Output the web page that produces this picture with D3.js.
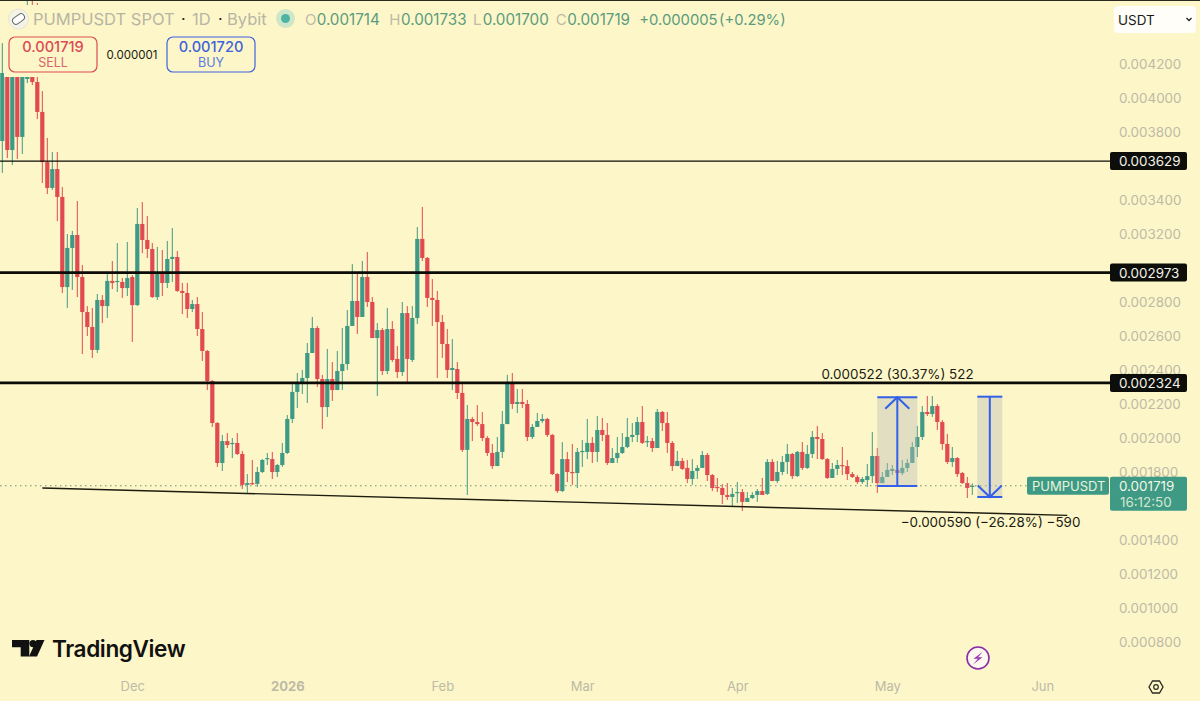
<!DOCTYPE html>
<html><head><meta charset="utf-8">
<script src="https://cdn.jsdelivr.net/npm/d3@7"></script>
<style>
html,body{margin:0;padding:0;background:#fdf6c8;overflow:hidden}
svg{display:block}
text{font-family:Inter,"Noto Sans",sans-serif}
</style></head><body>
<svg id="chart" width="1200" height="701"></svg>
<script>
// Prices in millionths of USDT, one candle per day starting 2025-11-05
const firstDay = "2025-11-05";
const opens = [
3747,4459,3694,4400,3771,4112,4341,4094,3918,3623,
3471,3582,3418,2888,3118,3194,2947,2741,2653,2518,
2812,2776,2924,2918,2918,2882,2947,2782,3259,3165,
3112,2829,2976,2912,3053,3065,2865,2853,2759,2788,
2641,2512,2335,2088,1853,1982,1965,1971,1906,1724,
1735,1730,1800,1876,1876,1800,1841,1912,2112,2271,
2324,2353,2500,2647,2347,2182,2347,2282,2394,2435,
2659,2806,2712,2947,2800,2588,2635,2394,2641,2465,
2388,2735,2459,2706,3171,3059,2824,2812,2682,2553,
2400,2406,2265,1930,2112,2094,2082,2000,1912,1835,
1918,2082,2329,2200,2212,2200,2006,2065,2100,2112,
2018,1788,1688,1876,1800,1794,1918,1918,1971,1918,
2047,2018,1853,1882,1912,1947,2006,2018,2094,1976,
1982,1941,2153,2088,1971,1835,1865,1824,1759,1806,
1824,1900,1782,1712,1706,1665,1653,1676,1682,1624,
1647,1665,1688,1671,1859,1747,1800,1859,1906,1776,
1918,1824,1906,2006,1994,1876,1765,1818,1841,1835,
1788,1771,1741,1753,1776,1894,1735,1771,1806,1812,
1794,1824,1853,1947,2006,2153,2141,2188,2094,1965,
1859,1882,1794,1735,1714];
const highs = [
4323,4518,4488,4471,4459,4588,4588,4559,4041,3765,
3682,3682,3476,3200,3218,3394,3018,2776,2765,2847,
2841,2976,3041,3147,2941,3153,2959,3353,3388,3306,
3147,3124,3106,3159,3235,3100,2912,2912,2812,2829,
2741,2518,2341,2094,2018,2029,2000,2029,1924,1788,
1871,1830,1876,1912,1918,1847,1971,2135,2329,2382,
2400,2559,2712,2659,2371,2524,2447,2512,2647,2753,
3023,2976,3041,3094,2829,2676,2647,2765,2688,2541,
2800,2776,2776,3241,3359,3065,2935,2865,2724,2641,
2582,2447,2318,2194,2124,2194,2153,2012,1965,2006,
2159,2371,2382,2288,2288,2224,2082,2147,2141,2118,
2024,1794,1976,1918,1965,1941,1988,2112,2006,2129,
2118,2088,1941,2006,2029,2118,2088,2124,2188,2012,
2000,2171,2159,2153,1982,1924,1882,1871,1876,1841,
1924,1912,1788,1765,1729,1735,1706,1741,1700,1682,
1682,1700,1765,1876,1876,1865,1894,1965,1912,1924,
1976,1959,2041,2071,2029,1882,1853,1871,1947,1871,
1800,1782,1771,1847,2035,1941,1800,1853,1841,1871,
1871,1876,1976,2071,2188,2247,2247,2200,2106,2024,
1947,1888,1800,1771,1733];
const lows = [
3559,3647,3606,3641,3671,4088,4076,3876,3500,3435,
3459,3276,2853,2765,2871,2829,2494,2600,2471,2500,
2676,2706,2876,2859,2824,2835,2565,2776,3088,3059,
2824,2812,2835,2882,2918,2859,2729,2706,2741,2600,
2453,2282,2065,1830,1806,1941,1882,1900,1700,1677,
1724,1712,1794,1841,1759,1771,1830,1906,2088,2176,
2259,2206,2500,2300,2053,2124,2218,2282,2282,2400,
2659,2612,2712,2771,2588,2247,2371,2376,2447,2353,
2365,2324,2447,2671,3041,2771,2659,2353,2471,2353,
2282,2229,1918,1665,1982,2071,1982,1894,1818,1835,
1882,2082,2171,2147,2176,1982,1994,2065,2088,2006,
1782,1677,1682,1741,1724,1706,1830,1876,1853,1859,
1982,1841,1853,1853,1906,1941,1976,1976,1965,1947,
1918,1941,2041,1912,1806,1835,1812,1735,1724,1759,
1824,1747,1688,1682,1612,1635,1600,1618,1571,1624,
1641,1624,1665,1665,1747,1735,1782,1788,1759,1771,
1812,1818,1882,1876,1871,1759,1765,1782,1782,1753,
1765,1730,1730,1712,1735,1677,1735,1771,1782,1782,
1782,1800,1853,1888,1988,2129,2124,2047,1930,1847,
1830,1771,1730,1647,1665];
const closes = [
4147,3694,4429,3771,4371,4341,4094,3918,3623,3471,
3582,3418,2888,3118,3194,2947,2741,2653,2518,2812,
2776,2924,2912,2924,2882,2941,2782,3259,3165,3112,
2829,2976,2912,3053,3065,2865,2853,2759,2788,2641,
2512,2335,2088,1853,1982,1959,1971,1906,1724,1735,
1730,1800,1871,1882,1800,1841,1912,2112,2271,2324,
2353,2500,2647,2347,2182,2347,2282,2394,2435,2659,
2806,2712,2947,2800,2588,2635,2394,2641,2459,2388,
2735,2465,2706,3171,3059,2824,2812,2682,2553,2400,
2412,2265,1930,2112,2094,2082,2000,1912,1835,1918,
2082,2329,2200,2212,2200,2006,2065,2100,2112,2018,
1788,1688,1876,1800,1794,1918,1924,1971,1918,2047,
2018,1853,1882,1912,1947,2006,2018,2094,1971,1982,
1941,2153,2088,1971,1835,1865,1818,1759,1806,1824,
1900,1782,1706,1706,1665,1653,1671,1682,1624,1647,
1665,1688,1665,1859,1747,1800,1859,1906,1776,1918,
1824,1906,2006,1994,1876,1765,1818,1841,1835,1788,
1771,1741,1759,1776,1894,1735,1771,1812,1818,1794,
1824,1853,1947,2006,2153,2141,2188,2094,1965,1859,
1882,1788,1735,1706,1719];

const monthStarts = ["2025-12-01","2026-01-01","2026-02-01","2026-03-01","2026-04-01","2026-05-01","2026-06-01"];
const monthLabels = ["Dec","2026","Feb","Mar","Apr","May","Jun"];
const priceTicks = [4200,4000,3800,3400,3200,2800,2600,2400,2200,2000,1800,1400,1200,1000,800];
const levels = [3629,2973,2324];
const levelWidths = [1.3,2.6,2.6];
const lastPrice = 1719;
const trendDays = ["2025-11-13","2026-06-06"];
const trendPrices = [1706,1545];
const longDays = ["2026-04-29","2026-05-07"];   const longPrices = [1718,2240];
const shortDays = ["2026-05-19","2026-05-24"];  const shortPrices = [2243,1653];

const BG="#fdf6c8", UP="#3f9a85", DOWN="#e04a50", BLUE="#3360e8", AXIS="#bdbaa6";
const svg=d3.select("#chart");
const parse=d3.utcParse("%Y-%m-%d");
const x=d3.scaleUtc().domain([parse("2025-12-01"),parse("2026-06-01")]).range([132.3,1042.3]);
const y=d3.scaleLinear().domain([800,4200]).range([642,64]);
const first=parse(firstDay);
const candles=opens.map((o,i)=>({day:d3.utcDay.offset(first,i),o,h:highs[i],l:lows[i],c:closes[i]}));
const fmt=v=>(v/1e6).toFixed(6);

svg.append("rect").attr("width",1200).attr("height",701).attr("fill",BG);

// candles
const g=svg.append("g");
g.selectAll("line.w").data(candles).join("line")
  .attr("x1",d=>x(d.day)).attr("x2",d=>x(d.day))
  .attr("y1",d=>y(d.h)).attr("y2",d=>y(d.l))
  .attr("stroke",d=>d.c>=d.o?UP:DOWN).attr("stroke-width",1);
g.selectAll("rect.b").data(candles).join("rect")
  .attr("x",d=>x(d.day)-2.1).attr("width",4.2)
  .attr("y",d=>y(Math.max(d.o,d.c)))
  .attr("height",d=>Math.max(1.2,Math.abs(y(d.o)-y(d.c))))
  .attr("fill",d=>d.c>=d.o?UP:DOWN);

// legend mask above the first candles
svg.append("rect").attr("x",4).attr("y",5).attr("width",100).attr("height",72).attr("fill",BG);
svg.append("rect").attr("width",1200).attr("height",1).attr("fill","#2a2a20");

// last-price dotted line
svg.append("line").attr("x1",0).attr("x2",1027).attr("y1",y(lastPrice)).attr("y2",y(lastPrice))
  .attr("stroke","#6f8f72").attr("stroke-width",1).attr("stroke-dasharray","1.5 3.5");

// horizontal levels
svg.selectAll("line.level").data(levels).join("line")
  .attr("x1",0).attr("x2",1111).attr("y1",d=>y(d)).attr("y2",d=>y(d))
  .attr("stroke","#0b0b08").attr("stroke-width",(d,i)=>levelWidths[i]);

// trend line
svg.append("line")
  .attr("x1",x(parse(trendDays[0]))).attr("y1",y(trendPrices[0]))
  .attr("x2",x(parse(trendDays[1]))).attr("y2",y(trendPrices[1]))
  .attr("stroke","#1c1c10").attr("stroke-width",1.4);

// measure tools
function measure(days,prices){
  const x0=x(parse(days[0])),x1=x(parse(days[1])),ya=y(prices[0]),yb=y(prices[1]),xm=(x0+x1)/2;
  const dir=yb<ya?1:-1;
  svg.append("rect").attr("x",x0).attr("width",x1-x0).attr("y",Math.min(ya,yb)).attr("height",Math.abs(ya-yb))
    .attr("fill","#b9bdbb").attr("fill-opacity",.42);
  const m=svg.append("g").attr("stroke",BLUE).attr("stroke-width",2).attr("fill","none");
  m.append("line").attr("x1",x0).attr("x2",x1).attr("y1",ya).attr("y2",ya);
  m.append("line").attr("x1",x0).attr("x2",x1).attr("y1",yb).attr("y2",yb);
  m.append("line").attr("x1",xm).attr("x2",xm).attr("y1",ya).attr("y2",yb);
  m.append("path").attr("d",d3.line()([[xm-12,yb+dir*11.5],[xm,yb],[xm+12,yb+dir*11.5]]));
}
measure(longDays,longPrices);
measure(shortDays,shortPrices);
const label=(t,xp,yp)=>svg.append("text").text(t).attr("x",xp).attr("y",yp).attr("text-anchor","middle")
  .attr("font-size",13.4).attr("fill","#1a1a10");
label("0.000522 (30.37%) 522",897.5,379);
label("\u22120.000590 (\u221226.28%) \u2212590",990.5,527);

// price axis
const ay=svg.append("g").attr("transform","translate(1119,0)")
  .call(d3.axisRight(y).tickValues(priceTicks).tickSize(0).tickPadding(0).tickFormat(fmt));
ay.select(".domain").remove();
ay.selectAll("text").attr("fill",AXIS).attr("font-size",13.4).attr("font-family",'Inter,sans-serif').attr("dy","0.36em");

// time axis
const ax=svg.append("g").attr("transform","translate(0,679)")
  .call(d3.axisBottom(x).tickValues(monthStarts.map(parse)).tickSize(0).tickPadding(3).tickFormat((d,i)=>monthLabels[i]));
ax.select(".domain").remove();
ax.selectAll("text").attr("fill",AXIS).attr("font-size",13).attr("font-family",'Inter,sans-serif')
  .attr("font-weight",(d,i)=>monthLabels[i]==="2026"?700:400);

// level price tags
const tags=svg.selectAll("g.tag").data(levels).join("g").attr("transform",d=>`translate(0,${y(d)})`);
tags.append("rect").attr("x",1110).attr("y",-9).attr("width",77).attr("height",18).attr("rx",2).attr("fill","#0d0d0a");
tags.append("text").text(fmt).attr("x",1119).attr("y",5).attr("font-size",13.4).attr("fill","#f3f3ea");

// last price tag
const ly=y(lastPrice);
svg.append("rect").attr("x",1027).attr("y",ly-9).attr("width",82).attr("height",18).attr("rx",2).attr("fill",UP);
svg.append("text").text("PUMPUSDT").attr("x",1032).attr("y",ly+5).attr("font-size",13).attr("fill","#e8f3dc");
svg.append("rect").attr("x",1110).attr("y",ly-9).attr("width",77).attr("height",34).attr("rx",2).attr("fill",UP);
svg.append("text").text(fmt(lastPrice)).attr("x",1119).attr("y",ly+5).attr("font-size",13.4).attr("fill","#f3f8e6");
svg.append("text").text("16:12:50").attr("x",1120).attr("y",ly+21).attr("font-size",13.4).attr("fill","#d5e6cf");

// header
svg.append("circle").attr("cx",18.5).attr("cy",19).attr("r",10).attr("fill","#f4f3e6").attr("stroke","#e6e6d8");
svg.append("rect").attr("x",12).attr("y",15.5).attr("width",13).attr("height",7).attr("rx",3.5)
  .attr("transform","rotate(-35 18.5 19)").attr("fill","#fff").attr("stroke","#5d6b66").attr("stroke-width",1);
svg.append("text").text("PUMPUSDT SPOT").attr("x",33).attr("y",25).attr("font-size",16.5).attr("fill","#b7b5a4");
svg.append("text").text("\u00b7").attr("x",181).attr("y",25).attr("font-size",16).attr("fill","#222");
svg.append("text").text("1D").attr("x",192).attr("y",25).attr("font-size",16.5).attr("fill","#b7b5a4");
svg.append("text").text("\u00b7").attr("x",218).attr("y",25).attr("font-size",16).attr("fill","#222");
svg.append("text").text("Bybit").attr("x",227).attr("y",25).attr("font-size",16.5).attr("fill","#b7b5a4");
svg.append("circle").attr("cx",285.5).attr("cy",18.5).attr("r",9.5).attr("fill","#cfe6c9");
svg.append("circle").attr("cx",285.5).attr("cy",18.5).attr("r",4.5).attr("fill","#4fb3a3");
const ohlc=[["O",305,"0.001714",316.7],["H",389.3,"0.001733",401],["L",473,"0.001700",482.7],["C",555.7,"0.001719",567.3]];
ohlc.forEach(r=>{
  svg.append("text").text(r[0]).attr("x",r[1]).attr("y",24.5).attr("font-size",15).attr("fill","#bdbaa6");
  svg.append("text").text(r[2]).attr("x",r[3]).attr("y",24.5).attr("font-size",15.2).attr("fill","#5a9c7e");
});
svg.append("text").text("+0.000005").attr("x",639.3).attr("y",24.5).attr("font-size",14.8).attr("fill","#5a9c7e");
svg.append("text").text("(+0.29%)").attr("x",719).attr("y",24.5).attr("font-size",14.8).attr("fill","#5a9c7e");

// sell / buy
function trade(xp,col,col2,price,word){
  svg.append("rect").attr("x",xp).attr("y",37).attr("width",88).attr("height",35).attr("rx",6)
    .attr("fill",BG).attr("stroke",col).attr("stroke-width",1.2);
  svg.append("text").text(price).attr("x",xp+44).attr("y",52).attr("text-anchor","middle").attr("font-size",14.6).attr("font-weight",500).attr("fill",col);
  svg.append("text").text(word).attr("x",xp+44).attr("y",67).attr("text-anchor","middle").attr("font-size",12.5).attr("fill",col2);
}
trade(9,"#dc4a55","#d9626c","0.001719","SELL");
trade(167,"#3f63dd","#5a7be2","0.001720","BUY");
svg.append("text").text("0.000001").attr("x",132).attr("y",59).attr("text-anchor","middle").attr("font-size",11.5).attr("fill","#1a1a10");

// currency selector
svg.append("rect").attr("x",1114).attr("y",6).attr("width",82).attr("height",27).attr("rx",4).attr("fill","#fffef8");
svg.append("text").text("USDT").attr("x",1118).attr("y",25).attr("font-size",13.5).attr("fill","#1a1a1a");
svg.append("path").attr("d","M1186.5 18l2.5 2.5 2.5-2.5").attr("fill","none").attr("stroke","#222").attr("stroke-width",1.3);

// TradingView logo
svg.append("path").attr("d","M12 640H29.3V656.5H20.7V647.3H12Z").attr("fill","#111");
svg.append("circle").attr("cx",33).attr("cy",643.6).attr("r",3.6).attr("fill","#111");
svg.append("path").attr("d","M36.5 640H44.5L37 656.5H29Z").attr("fill","#111");
svg.append("text").text("TradingView").attr("x",52).attr("y",657).attr("font-size",22.6).attr("font-weight",600).attr("letter-spacing","-0.4").attr("fill","#111");

// lightning icon
svg.append("circle").attr("cx",978).attr("cy",658).attr("r",11).attr("fill","#fdf8ee").attr("stroke","#8a2ca8").attr("stroke-width",1.6);
svg.append("path").attr("d","M983 651.5L973.5 658.8H978L973 664.5L982.5 657.2H978Z").attr("fill","#9a35b8");

// settings icon
svg.append("path").attr("d","M1149 687L1152.5 681H1159.5L1163 687L1159.5 693H1152.5Z").attr("fill","none").attr("stroke","#2a2a20").attr("stroke-width",1.3);
svg.append("circle").attr("cx",1156).attr("cy",687).attr("r",2.3).attr("fill","none").attr("stroke","#2a2a20").attr("stroke-width",1.2);
</script>
</body></html>
